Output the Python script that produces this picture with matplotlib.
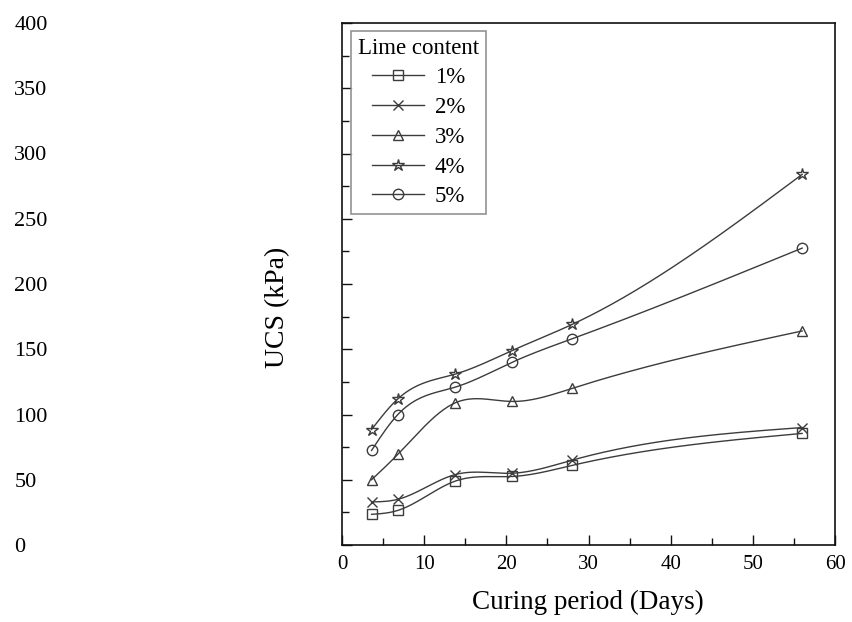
import numpy as np
import matplotlib
matplotlib.use("Agg")
import matplotlib.pyplot as plt
from matplotlib.ticker import MultipleLocator

plt.rcParams['font.family'] = ['Liberation Serif', 'DejaVu Serif']

# curing period (days) and UCS (kPa)
days = [3.6, 6.8, 13.8, 20.7, 28, 56]
ucs_1 = [23.5, 26.5, 49, 52.5, 61, 85.5]
ucs_2 = [33, 35, 54, 55, 65, 90]
ucs_3 = [50, 69.5, 109, 110, 120, 164]
ucs_4 = [88.5, 112, 131, 149, 169, 284]
ucs_5 = [72.5, 100, 121, 140, 158, 227.5]
labels = ['1%', '2%', '3%', '4%', '5%']
markers = ['s', 'x', '^', '*', 'o']


def natural_spline(x, y, n=300):
    # plain natural cubic spline, used only to draw the smooth connecting line
    x = np.asarray(x, float)
    y = np.asarray(y, float)
    k = len(x)
    h = np.diff(x)
    A = np.zeros((k, k))
    b = np.zeros(k)
    A[0, 0] = A[-1, -1] = 1
    for i in range(1, k - 1):
        A[i, i - 1] = h[i - 1]
        A[i, i] = 2 * (h[i - 1] + h[i])
        A[i, i + 1] = h[i]
        b[i] = 6 * ((y[i + 1] - y[i]) / h[i] - (y[i] - y[i - 1]) / h[i - 1])
    M = np.linalg.solve(A, b)
    xs = np.linspace(x[0], x[-1], n)
    j = np.clip(np.searchsorted(x, xs) - 1, 0, k - 2)
    t0 = x[j + 1] - xs
    t1 = xs - x[j]
    hj = h[j]
    ys = (M[j] * t0 ** 3 + M[j + 1] * t1 ** 3) / (6 * hj) \
        + (y[j] / hj - M[j] * hj / 6) * t0 + (y[j + 1] / hj - M[j + 1] * hj / 6) * t1
    return xs, ys


fig = plt.figure(figsize=(8.52, 6.22), dpi=100)
ax = fig.add_axes([342 / 852, 1 - 545 / 622, 493 / 852, 522 / 622])

line_col = '#3c3c3c'
for vals, lab, mk in zip([ucs_1, ucs_2, ucs_3, ucs_4, ucs_5], labels, markers):
    xs, ys = natural_spline(days, vals)
    ax.plot(xs, ys, color=line_col, lw=1.0)
    ax.plot(days, vals, linestyle='none', marker=mk, ms=7.5 if mk != '*' else 9,
            mfc='none', mec=line_col, mew=1.0)
    # legend proxy
    ax.plot([], [], color=line_col, lw=1.0, marker=mk, ms=7.5 if mk != '*' else 9,
            mfc='none', mec=line_col, mew=1.0, label=lab)

ax.set_xlim(0, 60)
ax.set_ylim(0, 400)
ax.xaxis.set_major_locator(MultipleLocator(10))
ax.xaxis.set_minor_locator(MultipleLocator(5))
ax.yaxis.set_major_locator(MultipleLocator(50))
ax.yaxis.set_minor_locator(MultipleLocator(25))

for s in ax.spines.values():
    s.set_linewidth(1.2)
    s.set_color('#111111')

ax.tick_params(which='both', direction='in', top=False, right=False, width=1.0, color='#111111')
ax.tick_params(which='major', length=7.2)
ax.tick_params(which='minor', length=5)
ax.tick_params(axis='x', labelsize=15, pad=7)
ax.tick_params(axis='y', labelsize=16, pad=236)
for t in ax.get_yticklabels():
    t.set_horizontalalignment('left')

ax.set_xlabel('Curing period (Days)', fontsize=19.5)
ax.xaxis.set_label_coords(0.499, -0.085)
ax.set_ylabel('UCS (kPa)', fontsize=20)
ax.yaxis.set_label_coords(-0.105, 0.456)

leg = ax.legend(loc='upper left', bbox_to_anchor=(0.018, 0.985), borderaxespad=0,
                title='Lime content', fontsize=16.5, title_fontsize=16.5,
                frameon=True, fancybox=False, handlelength=2.3, handletextpad=0.45,
                labelspacing=0.38, borderpad=0.3)
leg.get_frame().set_edgecolor('#777777')
leg.get_frame().set_linewidth(1.2)

fig.savefig('out.png', dpi=100)
